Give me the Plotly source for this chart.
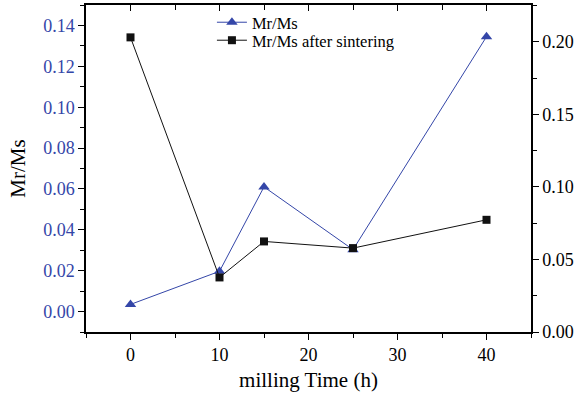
import plotly.graph_objects as go

# Data
milling_time = [0, 10, 15, 25, 40]
mr_ms = [0.0035, 0.0197, 0.061, 0.0303, 0.1345]
mr_ms_sintered = [0.203, 0.0376, 0.0624, 0.0578, 0.0773]

blue = "#3446a8"
ff = "Liberation Serif"

fig = go.Figure()
fig.add_trace(go.Scatter(
    x=milling_time, y=mr_ms, name="Mr/Ms", mode="lines+markers",
    line=dict(color=blue, width=1),
    marker=dict(symbol="triangle-up", size=10, color=blue),
    yaxis="y", xaxis="x", legend="legend"))
fig.add_trace(go.Scatter(
    x=milling_time, y=mr_ms_sintered, name="Mr/Ms after sintering", mode="lines+markers",
    line=dict(color="#111111", width=1),
    marker=dict(symbol="square", size=8, color="#111111"),
    yaxis="y2", xaxis="x", legend="legend2"))
fig.add_trace(go.Scatter(x=[None], y=[None], xaxis="x3", yaxis="y", showlegend=False, hoverinfo="skip"))

axis_common = dict(showline=True, linecolor="black", linewidth=1.5, showgrid=False, zeroline=False,
                   ticklen=6, tickwidth=1.2, tickcolor="black", automargin=False)

leg_common = dict(xanchor="left", yanchor="top", bgcolor="rgba(0,0,0,0)",
                  font=dict(size=16.5, family=ff, color="black"), itemwidth=30)

fig.update_layout(
    width=580, height=394,
    margin=dict(l=86, r=49, t=5, b=62),
    paper_bgcolor="white", plot_bgcolor="white",
    font=dict(family=ff, size=18, color="black"),
    showlegend=True,
    legend=dict(x=0.283, y=1.0, **leg_common),
    legend2=dict(x=0.283, y=0.945, **leg_common),
    xaxis=dict(range=[-5, 45], dtick=10, tick0=0, ticks="outside",
               minor=dict(ticks="outside", dtick=5, tick0=0, ticklen=4, tickcolor="black"),
               title=dict(text="milling Time (h)", font=dict(size=21, family=ff), standoff=8),
               tickfont=dict(size=18, family=ff, color="black"), **axis_common),
    xaxis3=dict(range=[-5, 45], dtick=10, tick0=0, ticks="inside", side="top", overlaying="x",
                showticklabels=False,
                minor=dict(ticks="inside", dtick=5, tick0=0, ticklen=5, tickcolor="black"),
                **axis_common),
    yaxis=dict(range=[-0.01, 0.15], dtick=0.02, tick0=0, tickformat=".2f", ticks="outside",
               minor=dict(ticks="outside", dtick=0.01, tick0=0, ticklen=4, tickcolor="black"),
               tickfont=dict(color=blue, size=18, family=ff),
               title=dict(text="Mr/Ms", font=dict(size=21, family=ff), standoff=12),
               **axis_common),
    yaxis2=dict(range=[0, 0.2253], dtick=0.05, tick0=0, tickformat=".2f", ticks="outside",
                overlaying="y", side="right",
                minor=dict(ticks="outside", dtick=0.025, tick0=0, ticklen=4, tickcolor="black"),
                tickfont=dict(color="black", size=18, family=ff),
                **axis_common),
)

fig.write_html("out.html", config={"displayModeBar": False},
               post_script="document.body.style.margin='0';")
